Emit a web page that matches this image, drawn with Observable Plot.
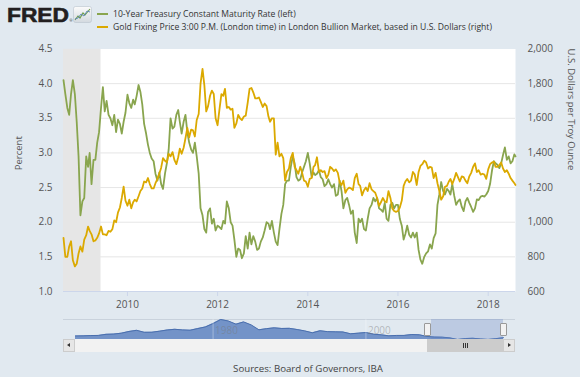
<!DOCTYPE html>
<html><head><meta charset="utf-8">
<script src="https://cdn.jsdelivr.net/npm/d3@7"></script>
<script src="https://cdn.jsdelivr.net/npm/@observablehq/plot@0.6"></script>
<style>
html,body{margin:0;padding:0;background:#e1e9f0;width:580px;height:377px;overflow:hidden;font-family:"Open Sans",sans-serif;}
#wrap{position:relative;width:580px;height:377px;}
.abs{position:absolute;}
#caption{left:188px;top:362px;width:240px;text-align:center;font-size:9.7px;color:#444;}
.btn{background:#e6e6e6;border:1px solid #cccccc;box-sizing:border-box;}
.handle{background:#f2f2f2;border:1px solid #999;box-sizing:border-box;border-radius:1px;}
</style></head>
<body><div id="wrap">
<svg id="header" class="abs" style="left:0;top:0" width="580" height="40"></svg>
<div id="main" class="abs" style="left:0;top:40px"></div>
<div class="abs" style="left:63px;top:319px;width:452px;height:1px;background:#c9d2dc"></div>
<div id="nav" class="abs" style="left:0;top:315px"></div>
<div class="abs" style="left:63px;top:339px;width:452px;height:13px;background:#f2f2f2"></div>
<div class="abs btn" style="left:63px;top:339px;width:12px;height:13px"></div>
<div class="abs" style="left:67px;top:343px;width:0;height:0;border-top:2.5px solid transparent;border-bottom:2.5px solid transparent;border-right:3px solid #333"></div>
<div class="abs btn" style="left:503px;top:339px;width:12px;height:13px"></div>
<div class="abs" style="left:508px;top:343px;width:0;height:0;border-top:2.5px solid transparent;border-bottom:2.5px solid transparent;border-left:3px solid #333"></div>
<div class="abs" style="left:427px;top:339px;width:76px;height:13px;background:#cccccc"></div>
<div class="abs" style="left:463px;top:343px;width:1px;height:5px;background:#333"></div>
<div class="abs" style="left:465px;top:343px;width:1px;height:5px;background:#333"></div>
<div class="abs" style="left:467px;top:343px;width:1px;height:5px;background:#333"></div>
<div class="abs handle" style="left:424px;top:323px;width:7px;height:13px"></div>
<div class="abs handle" style="left:500px;top:323px;width:7px;height:13px"></div>
<div id="caption" class="abs">Sources: Board of Governors, IBA</div>
</div>
<script>
// ---- data ----
const seriesNames = ["10-Year Treasury Constant Maturity Rate (left)",
  "Gold Fixing Price 3:00 P.M. (London time) in London Bullion Market, based in U.S. Dollars (right)"];
const seriesColors = ["#89a54e", "#dba900"];
const yLabelLeft = "Percent";
const yLabelRight = "U.S. Dollars per Troy Ounce";
const caption = "Sources: Board of Governors, IBA";

// semi-monthly observations (1st and 16th of each month), Aug 2008 – Aug 2018
const firstObs = "2008-08-01";
const lastObs = "2018-08-10";
const treasury = [
  4.05,3.85,3.65,3.55,3.85,4.05,3.85,3.45,2.95,2.10,
  2.30,2.35,2.95,2.80,3.00,2.55,2.90,2.90,3.15,3.30,3.65,3.95,3.60,3.75,3.55,3.50,3.40,3.55,3.30,3.48,3.42,3.28,3.45,3.58,
  3.84,3.72,3.65,3.77,3.70,3.82,3.98,3.88,3.70,3.42,3.28,3.12,3.00,2.92,2.88,2.70,2.60,2.72,2.55,2.48,2.70,2.85,3.05,3.50,
  3.35,3.38,3.55,3.62,3.45,3.28,3.45,3.55,3.30,3.15,3.05,3.00,3.15,2.95,2.70,2.20,2.10,1.90,1.85,2.15,2.20,1.98,2.05,1.88,
  1.95,1.93,1.90,2.02,1.98,2.30,2.20,2.00,1.95,1.75,1.50,1.62,1.60,1.48,1.55,1.80,1.62,1.85,1.68,1.80,1.72,1.60,1.62,1.72,
  1.78,1.88,2.00,1.98,1.90,2.02,1.85,1.72,1.67,1.90,2.12,2.25,2.55,2.60,2.60,2.80,2.95,2.85,2.65,2.60,2.62,2.72,2.80,2.88,
  3.00,2.85,2.65,2.72,2.68,2.70,2.75,2.65,2.62,2.52,2.55,2.62,2.55,2.50,2.55,2.38,2.40,2.60,2.45,2.20,2.32,2.35,2.25,2.12,
  2.17,1.85,1.70,2.05,2.00,2.05,1.90,1.88,2.05,2.20,2.25,2.35,2.30,2.35,2.20,2.18,2.15,2.28,2.05,2.02,2.25,2.28,2.20,2.25,
  2.25,2.05,1.95,1.75,1.83,1.95,1.82,1.78,1.85,1.78,1.85,1.60,1.46,1.40,1.50,1.55,1.58,1.68,1.62,1.77,1.84,2.25,2.40,2.58,
  2.45,2.40,2.48,2.45,2.40,2.55,2.38,2.25,2.30,2.33,2.22,2.16,2.30,2.35,2.28,2.22,2.15,2.20,2.33,2.32,2.37,2.38,2.37,2.40,
  2.45,2.55,2.75,2.88,2.85,2.83,2.78,2.85,2.97,3.08,2.90,2.95,2.85,2.88,2.98,2.95
];
const gold = [
  910,800,800,860,890,780,745,760,820,860,
  830,900,925,975,950,930,890,895,910,935,975,930,930,925,950,945,960,1010,1000,1055,1085,1140,1205,1125,
  1095,1130,1080,1115,1130,1120,1150,1180,1195,1235,1230,1255,1220,1195,1195,1225,1250,1280,1315,1370,1355,1345,1395,1380,
  1405,1360,1335,1375,1425,1395,1430,1485,1545,1490,1535,1530,1495,1590,1625,1800,1885,1790,1640,1670,1730,1760,1740,1600,
  1560,1650,1740,1730,1770,1660,1665,1650,1655,1545,1570,1620,1600,1590,1610,1615,1690,1770,1775,1750,1715,1715,1720,1695,
  1665,1685,1670,1610,1580,1600,1600,1390,1460,1380,1395,1370,1240,1290,1310,1370,1400,1320,1300,1280,1320,1285,1240,1235,
  1205,1250,1255,1320,1330,1375,1290,1300,1290,1295,1255,1275,1320,1310,1295,1305,1285,1230,1215,1240,1170,1190,1200,1195,
  1185,1255,1280,1220,1210,1155,1185,1200,1180,1225,1190,1180,1170,1140,1095,1115,1140,1120,1115,1180,1140,1080,1065,1060,
  1065,1085,1125,1210,1235,1250,1230,1240,1290,1275,1215,1290,1325,1335,1355,1345,1310,1320,1315,1255,1285,1225,1180,1130,
  1150,1205,1210,1235,1250,1220,1250,1285,1260,1235,1265,1260,1240,1225,1265,1285,1320,1340,1290,1300,1275,1280,1275,1250,
  1305,1335,1345,1350,1320,1320,1330,1345,1310,1290,1300,1280,1255,1240,1225,1215
];
const recessions = [{start: "2007-12-01", end: "2009-06-01"}];
const pctTicks = [1.0,1.5,2.0,2.5,3.0,3.5,4.0,4.5];
const goldTicks = [600,800,1000,1200,1400,1600,1800,2000];
const yearTicks = ["2010-01-01","2012-01-01","2014-01-01","2016-01-01","2018-01-01"];

// navigator: annual 10-year rate, 1962–2018
const navStartYear = 1962;
const navRate = [3.95,4.00,4.19,4.28,4.93,5.07,5.64,6.67,7.35,6.16,
  6.21,6.85,7.56,7.99,7.61,7.42,8.41,9.43,11.43,13.92,
  13.01,11.10,12.46,10.62,7.67,8.39,8.85,8.49,8.55,7.86,
  7.01,5.87,7.09,6.57,6.44,6.35,5.26,5.65,6.03,5.02,
  4.61,4.01,4.27,4.29,4.80,4.63,3.66,3.26,3.22,2.78,
  1.80,2.35,2.54,2.14,1.84,2.33,2.91];
const navLabels = [1980, 2000];

// ---- build ----
const dates = [];
for (let i = 0; i < 240; i++) dates.push(new Date(Date.UTC(2008, 7 + Math.floor(i / 2), i % 2 ? 16 : 1)));
dates.push(new Date(Date.UTC(2018, 7, 1)), new Date(lastObs));
const tData = treasury.map((v, i) => ({date: dates[i], value: v}));
const gData = gold.map((v, i) => ({date: dates[i], value: v}));
const toPct = g => 1 + (g - 600) / 400;
const toGold = p => Math.round(600 + (p - 1) * 400);
const fmt = d3.format(",");
const font = "'Open Sans', sans-serif";

// header
const hdr = d3.select("#header");
const defs = hdr.append("defs").append("linearGradient").attr("id","ig").attr("x1",0).attr("y1",0).attr("x2",0).attr("y2",1);
defs.append("stop").attr("offset","0").attr("stop-color","#fbfbfb");
defs.append("stop").attr("offset","1").attr("stop-color","#d3d9df");
hdr.append("text").attr("x",7).attr("y",21.5).attr("textLength",62).attr("lengthAdjust","spacingAndGlyphs")
  .attr("font-family","'Liberation Sans', Arial, sans-serif").attr("font-weight",900).attr("font-size",20)
  .attr("fill","#231f20").attr("stroke","#231f20").attr("stroke-width",0.6).text("FRED");
hdr.append("text").attr("x",69.5).attr("y",21.5).attr("font-size",3.5).attr("fill","#231f20").text("®");
hdr.append("rect").attr("x",73.5).attr("y",6.5).attr("width",18).attr("height",16).attr("rx",2)
  .attr("fill","url(#ig)").attr("stroke","#b9c3cc").attr("stroke-width",0.6);
hdr.append("polyline").attr("points","75,20 78,16 80,18 83,13 85,15 90,9").attr("fill","none").attr("stroke","#6f9e4a").attr("stroke-width",1.1);
hdr.append("polyline").attr("points","75,19 78,18 81,14 84,16 87,11 90,12").attr("fill","none").attr("stroke","#5b86b8").attr("stroke-width",0.9);
seriesNames.forEach((name, i) => {
  const y = 14 + i * 13;
  hdr.append("line").attr("x1",97).attr("x2",108).attr("y1",y).attr("y2",y).attr("stroke",seriesColors[i]).attr("stroke-width",2);
  hdr.append("text").attr("x",113).attr("y",y + 3).attr("font-family",font).attr("font-size",8.6).attr("fill","#333").text(name);
});
document.getElementById("caption").textContent = caption;

// main chart
const main = Plot.plot({
  width: 580, height: 275,
  marginTop: 8.5, marginBottom: 24, marginLeft: 63, marginRight: 65,
  style: {fontFamily: font, fontSize: "10px", color: "#555", background: "transparent"},
  x: {type: "utc", domain: [new Date(firstObs), new Date(lastObs)]},
  y: {domain: [1, 4.5]},
  marks: [
    Plot.frame({fill: "white", stroke: "none"}),
    Plot.ruleY(pctTicks.slice(1, -1), {stroke: "#e6e6e6"}),
    Plot.rect(recessions, {x1: d => new Date(d.start), x2: d => new Date(d.end), y1: 1, y2: 4.5, fill: "#e6e6e6", clip: true}),
    Plot.ruleY([1], {stroke: "#ccd6eb"}),
    Plot.axisX(yearTicks.map(d => new Date(d)), {tickFormat: "%Y", tickSize: 5, tickPadding: 4, stroke: "#ccd6eb", label: null}),
    Plot.axisY(pctTicks, {anchor: "left", tickSize: 0, tickPadding: 11, tickFormat: d => d.toFixed(1), label: null}),
    Plot.axisY(goldTicks.map(toPct), {anchor: "right", tickSize: 0, tickPadding: 12, tickFormat: d => fmt(toGold(d)), label: null}),
    Plot.text([yLabelLeft], {frameAnchor: "left", dx: -45, rotate: -90, fontSize: 9.5, fill: "#555"}),
    Plot.text([yLabelRight], {frameAnchor: "right", dx: 56, rotate: 90, fontSize: 9.5, fill: "#555"}),
    Plot.lineY(tData, {x: "date", y: "value", stroke: seriesColors[0], strokeWidth: 1.8, strokeLinejoin: "round"}),
    Plot.lineY(gData, {x: "date", y: d => toPct(d.value), stroke: seriesColors[1], strokeWidth: 1.8, strokeLinejoin: "round"})
  ]
});
document.getElementById("main").appendChild(main);

// navigator
const navData = navRate.map((v, i) => ({year: navStartYear + i, value: v}));
const navMin = d3.min(navRate), navMax = d3.max(navRate);
const nav = Plot.plot({
  width: 580, height: 25, marginTop: 4, marginBottom: 1, marginLeft: 75, marginRight: 77,
  style: {fontFamily: font, fontSize: "10px", background: "transparent"},
  x: {domain: [navStartYear, navStartYear + navRate.length - 1], axis: null},
  y: {domain: [navMin, navMax], axis: null},
  marks: [
    Plot.areaY(navData, {x: "year", y1: navMin, y2: "value", fill: "#7393c8"}),
    Plot.lineY(navData, {x: "year", y: "value", stroke: "#4a6fae", strokeWidth: 1}),
    Plot.ruleX(navLabels, {stroke: "#ffffff", strokeOpacity: 0.35}),
    Plot.text(navLabels, {x: d => d, text: d => String(d), frameAnchor: "bottom", dy: -6, dx: 2, textAnchor: "start", fill: "#777", fillOpacity: 0.45}),
    Plot.rect([{x1: 2008.58, x2: navStartYear + navRate.length - 1}], {x1: "x1", x2: "x2", fill: "#6685c2", fillOpacity: 0.3})
  ]
});
document.getElementById("nav").appendChild(nav);
</script>
</body></html>
